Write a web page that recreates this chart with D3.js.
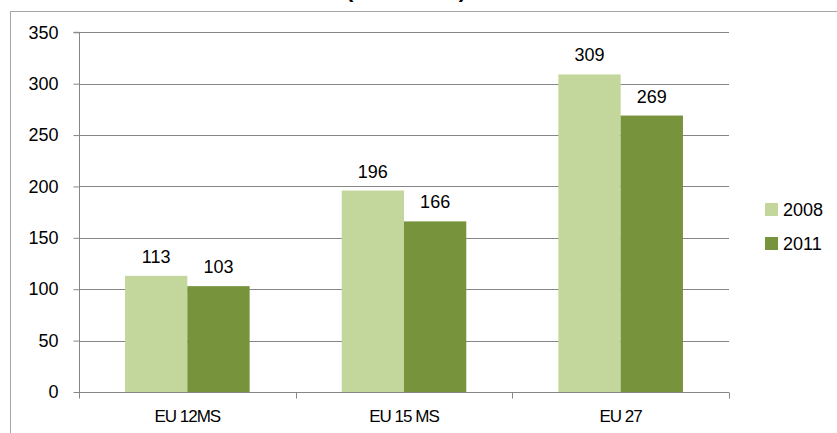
<!DOCTYPE html>
<html><head><meta charset="utf-8">
<script src="https://cdn.jsdelivr.net/npm/d3@7"></script>
<style>body{margin:0;background:#fff}svg{display:block;font-family:"Liberation Sans",Arial,sans-serif}</style>
</head><body><svg id="c" width="837" height="433"></svg>
<script>
const categories = ["EU 12MS", "EU 15 MS", "EU 27"];
const seriesNames = ["2008", "2011"];
const values2008 = [113, 196, 309];
const values2011 = [103, 166, 269];
const yTicks = [0, 50, 100, 150, 200, 250, 300, 350];
const titleText = "(1000 AWU)";
const colors = ["#c3d69b", "#77933c"];

const svg = d3.select("#c");
const m = {left: 79, right: 837 - 729, top: 32.3, bottom: 433 - 392};

// outer frame
svg.append("rect").attr("x", 10.5).attr("y", 11.5).attr("width", 900).attr("height", 500)
  .attr("fill", "none").attr("stroke", "#a6a6a6").attr("stroke-width", 1);

// title (clipped at top, as in the reference)
svg.append("text").attr("x", 406).attr("y", -3.5).attr("text-anchor", "middle")
  .attr("font-weight", "bold").attr("font-size", 22).attr("fill", "#000").text(titleText);

const x0 = d3.scaleBand().domain(categories).range([m.left, 729]).paddingInner(0.425).paddingOuter(0.2125);
const x1 = d3.scaleBand().domain(seriesNames).range([0, x0.bandwidth()]);
const y = d3.scaleLinear().domain([0, 350]).range([392, 32.3]);

// gridlines
svg.append("g").selectAll("line").data(yTicks.filter(t => t > 0)).join("line")
  .attr("x1", m.left).attr("x2", 729)
  .attr("y1", d => Math.round(y(d)) + 0.5).attr("y2", d => Math.round(y(d)) + 0.5)
  .attr("stroke", "#868686").attr("stroke-width", 1);

// bars
const data = categories.map((c, i) => ({c, vals: [values2008[i], values2011[i]]}));
const g = svg.append("g").selectAll("g").data(data).join("g")
  .attr("transform", d => `translate(${x0(d.c)},0)`);
g.selectAll("rect").data(d => d.vals.map((v, j) => ({v, s: seriesNames[j], j}))).join("rect")
  .attr("x", d => x1(d.s)).attr("width", x1.bandwidth())
  .attr("y", d => y(d.v)).attr("height", d => y(0) - y(d.v))
  .attr("fill", d => colors[d.j]);
g.selectAll("text").data(d => d.vals.map((v, j) => ({v, s: seriesNames[j], j}))).join("text")
  .attr("x", d => x1(d.s) + x1.bandwidth() / 2).attr("y", d => y(d.v) - 13)
  .attr("text-anchor", "middle").attr("font-size", 18).attr("fill", "#000").text(d => d.v);

// y axis
const ya = d3.axisLeft(y).tickValues(yTicks).tickSize(6).tickPadding(15);
const yg = svg.append("g").attr("transform", `translate(${m.left + 0.5},0)`).call(ya);
yg.select(".domain").attr("stroke", "#868686").attr("d", `M-6,${y(350)}H0V${y(0)}`);
yg.selectAll(".tick line").attr("stroke", "#868686");
yg.selectAll(".tick text").attr("font-size", 18).attr("fill", "#000").attr("font-family", "Liberation Sans, Arial, sans-serif");

// x axis
const xg = svg.append("g").attr("transform", `translate(0,${Math.round(y(0)) + 0.5})`);
xg.append("line").attr("x1", m.left).attr("x2", 729).attr("stroke", "#868686");
const bounds = [m.left].concat(categories.map(c => x0(c) + x0.bandwidth() / 2 + x0.step() / 2));
xg.selectAll("line.t").data(bounds).join("line").attr("class", "t")
  .attr("x1", d => Math.round(d) + 0.5).attr("x2", d => Math.round(d) + 0.5).attr("y1", 0).attr("y2", 6)
  .attr("stroke", "#868686");
xg.selectAll("text").data(categories).join("text")
  .attr("x", d => x0(d) + x0.bandwidth() / 2).attr("y", 29)
  .attr("text-anchor", "middle").attr("font-size", 17).attr("letter-spacing", -1).attr("fill", "#000").text(d => d);

// legend
const lg = svg.append("g").selectAll("g").data(seriesNames).join("g")
  .attr("transform", (d, i) => `translate(765,${203 + i * 34})`);
lg.append("rect").attr("width", 13).attr("height", 13).attr("fill", (d, i) => colors[i]);
lg.append("text").attr("x", 18).attr("y", 13).attr("font-size", 18).attr("fill", "#000").text(d => d);
</script></body></html>
